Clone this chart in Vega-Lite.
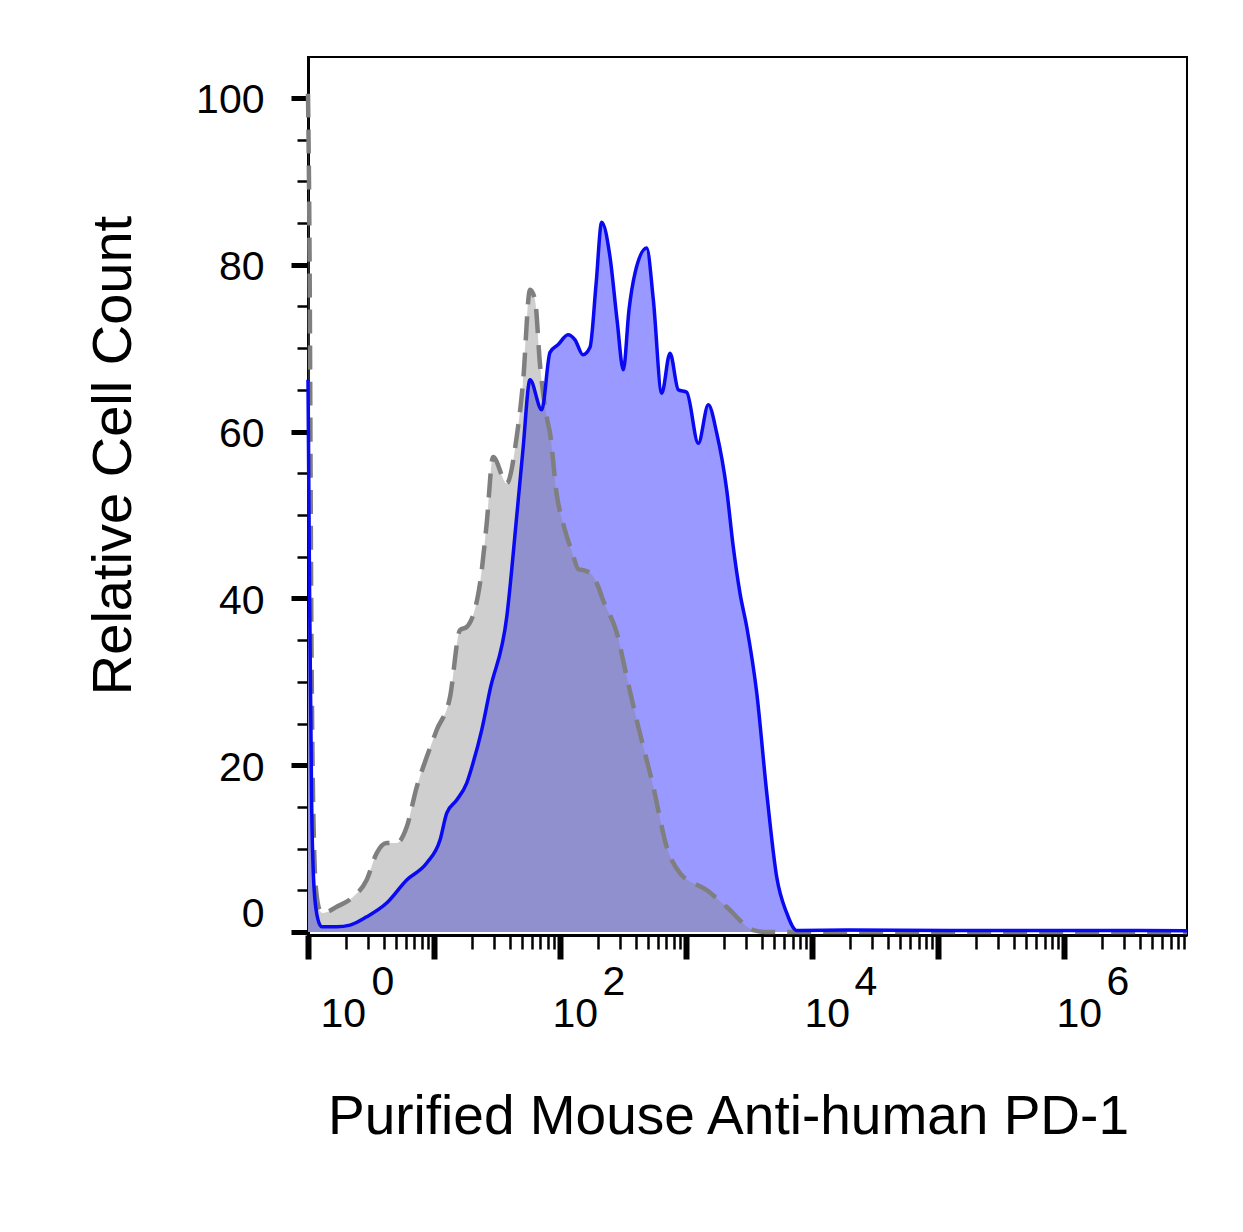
{
  "$schema": "https://vega.github.io/schema/vega-lite/v6.json",
  "background": "white",
  "autosize": {"type": "none"},
  "padding": {"left": 308, "top": 57, "right": 56, "bottom": 297},
  "width": 879,
  "height": 878,
  "datasets": {
    "blue": [
      {"x": 1, "y": 66.2}, {"x": 1.03, "y": 40}, {"x": 1.07, "y": 15}, {"x": 1.12, "y": 5},
      {"x": 1.2, "y": 1.5}, {"x": 1.285, "y": 0.64}, {"x": 1.69, "y": 0.64}, {"x": 2.154, "y": 0.84},
      {"x": 2.92, "y": 1.83}, {"x": 4.21, "y": 3.48}, {"x": 6.07, "y": 6.24}, {"x": 8.75, "y": 8.27},
      {"x": 11.16, "y": 11.03}, {"x": 12.62, "y": 14.27}, {"x": 15.14, "y": 15.83}, {"x": 18.18, "y": 17.87},
      {"x": 20.4, "y": 20.26}, {"x": 23.9, "y": 24.22}, {"x": 27.8, "y": 29.0}, {"x": 37.8, "y": 37.8},
      {"x": 45.3, "y": 49.8}, {"x": 50.8, "y": 57.8}, {"x": 57.8, "y": 66.2}, {"x": 71.6, "y": 62.6},
      {"x": 83.3, "y": 69.5}, {"x": 96.4, "y": 70.4}, {"x": 115.7, "y": 71.6}, {"x": 131.5, "y": 71.0},
      {"x": 152.2, "y": 69.2}, {"x": 173, "y": 70.1}, {"x": 193.1, "y": 77.6}, {"x": 214.3, "y": 85.1},
      {"x": 249.5, "y": 80.9}, {"x": 283.5, "y": 73.4}, {"x": 318, "y": 67.4}, {"x": 352.8, "y": 74.6},
      {"x": 393.7, "y": 79.0}, {"x": 487.5, "y": 82.0}, {"x": 550.3, "y": 75.8}, {"x": 641.4, "y": 64.6},
      {"x": 746.5, "y": 69.4}, {"x": 868.8, "y": 65.0}, {"x": 1013, "y": 64.7}, {"x": 1252, "y": 58.6},
      {"x": 1503, "y": 63.2}, {"x": 1753, "y": 59.8}, {"x": 2104, "y": 53.0}, {"x": 2361, "y": 46.4},
      {"x": 2683, "y": 40.6}, {"x": 3032, "y": 36.6}, {"x": 3640, "y": 28.7}, {"x": 4371, "y": 16.7},
      {"x": 5246, "y": 6.6}, {"x": 6295, "y": 2.3}, {"x": 7561, "y": 0.2}, {"x": 20000, "y": 0.25},
      {"x": 124500, "y": 0.2}, {"x": 774000, "y": 0.2}, {"x": 9460000, "y": 0.15}
    ],
    "gray": [
      {"x": 1, "y": 100.5}, {"x": 1.03, "y": 80}, {"x": 1.06, "y": 40}, {"x": 1.1, "y": 15},
      {"x": 1.16, "y": 5}, {"x": 1.25, "y": 2.5}, {"x": 1.315, "y": 2.28}, {"x": 1.69, "y": 3.03},
      {"x": 2.275, "y": 4.2}, {"x": 2.92, "y": 6.24}, {"x": 3.51, "y": 9.47}, {"x": 4.21, "y": 10.67},
      {"x": 5.06, "y": 10.67}, {"x": 6.07, "y": 12.59}, {"x": 7.29, "y": 17.39}, {"x": 8.75, "y": 20.98},
      {"x": 10.5, "y": 24.22}, {"x": 13.4, "y": 28.18}, {"x": 16.08, "y": 36.2}, {"x": 18.18, "y": 36.57},
      {"x": 23.2, "y": 41.85}, {"x": 26.2, "y": 49.0}, {"x": 29.4, "y": 56.95}, {"x": 37.8, "y": 53.8},
      {"x": 45.3, "y": 59.35}, {"x": 50.8, "y": 65.8}, {"x": 57.8, "y": 77.0}, {"x": 63.3, "y": 75.8},
      {"x": 69.4, "y": 68.0}, {"x": 78.4, "y": 61.75}, {"x": 83.3, "y": 59.8}, {"x": 94.1, "y": 52.5},
      {"x": 108, "y": 48.5}, {"x": 125, "y": 45.5}, {"x": 140, "y": 43.5}, {"x": 160, "y": 43.3},
      {"x": 180, "y": 42.8}, {"x": 200, "y": 41.5}, {"x": 219.4, "y": 39.8}, {"x": 281.8, "y": 35.9},
      {"x": 338.3, "y": 30.6}, {"x": 406.2, "y": 25.4}, {"x": 550.3, "y": 17.4}, {"x": 703, "y": 10.2},
      {"x": 896, "y": 7.07}, {"x": 1459, "y": 5.04}, {"x": 2104, "y": 3.0}, {"x": 3420, "y": 0.24},
      {"x": 4371, "y": 0}, {"x": 9460000, "y": 0}
    ]
  },
  "config": {
    "view": {"stroke": "black", "strokeWidth": 2},
    "font": "Liberation Sans",
    "axis": {"grid": false, "labelColor": "black", "titleColor": "black", "titleFontWeight": "normal"}
  },
  "resolve": {"scale": {"x": "shared"}, "axis": {"x": "independent"}},
  "encoding": {
    "y": {
      "field": "y",
      "type": "quantitative",
      "title": "Relative Cell Count",
      "scale": {"domain": [-0.35, 104.9], "nice": false, "zero": false},
      "axis": {
        "values": [0,5,10,15,20,25,30,35,40,45,50,55,60,65,70,75,80,85,90,95,100],
        "domainColor": "black",
        "domainWidth": 3,
        "tickColor": "black",
        "tickSize": {"condition": {"test": "datum.value % 20 == 0", "value": 17}, "value": 11},
        "tickWidth": {"condition": {"test": "datum.value % 20 == 0", "value": 5}, "value": 2.5},
        "labelExpr": "datum.value % 20 == 0 ? datum.label : ''",
        "labelFontSize": 41,
        "labelPadding": 27,
        "labelOffset": 3,
        "labelFlush": 5,
        "labelOverlap": false,
        "titleFontSize": 56,
        "titleX": -178,
        "titleY": 398,
        "titleAngle": -90,
        "titleBaseline": "alphabetic",
        "titleAlign": "center"
      }
    }
  },
  "layer": [
    {
      "data": {"name": "blue"},
      "mark": {"type": "area", "color": "#9999FF", "opacity": 1, "interpolate": "monotone"},
      "encoding": {
        "x": {
          "field": "x",
          "type": "quantitative",
          "title": "Purified Mouse Anti-human PD-1",
          "scale": {"type": "log", "domain": [1, 9460000], "nice": false},
          "axis": {
            "orient": "bottom",
            "values": [1,2,3,4,5,6,7,8,9,10,20,30,40,50,60,70,80,90,100,200,300,400,500,600,700,800,900,1000,2000,3000,4000,5000,6000,7000,8000,9000,10000,20000,30000,40000,50000,60000,70000,80000,90000,100000,200000,300000,400000,500000,600000,700000,800000,900000,1000000,2000000,3000000,4000000,5000000,6000000,7000000,8000000,9000000],
            "domainColor": "black",
            "domainWidth": 3,
            "tickColor": "black",
            "tickSize": {"condition": {"test": "abs(log(datum.value)/LN10 - round(log(datum.value)/LN10)) < 0.001", "value": 24}, "value": 14},
            "tickWidth": {"condition": {"test": "abs(log(datum.value)/LN10 - round(log(datum.value)/LN10)) < 0.001", "value": 6}, "value": 2.5},
            "labels": false,
            "titleFontSize": 55,
            "titleX": 420,
            "titleY": 198,
            "titleBaseline": "alphabetic",
            "titleAlign": "center"
          }
        }
      }
    },
    {
      "data": {"name": "gray"},
      "mark": {"type": "area", "color": "#808080", "opacity": 0.38, "interpolate": "monotone"},
      "encoding": {
        "x": {
          "field": "x",
          "type": "quantitative",
          "title": null,
          "scale": {"type": "log", "domain": [1, 9460000], "nice": false},
          "axis": {
            "orient": "bottom",
            "values": [1, 100, 10000, 1000000],
            "domain": false,
            "ticks": false,
            "labelExpr": "'10'",
            "labelFontSize": 41,
            "labelAlign": "left",
            "labelBaseline": "alphabetic",
            "labelPadding": 91,
            "labelOffset": {"condition": {"test": "datum.value == 1", "value": 12}, "value": -8},
            "labelOverlap": false,
            "labelFlush": false,
            "labelBound": false
          }
        }
      }
    },
    {
      "data": {"name": "gray"},
      "mark": {"type": "line", "color": "#7F7F7F", "strokeWidth": 4.5, "strokeDash": [24, 12], "interpolate": "monotone"},
      "encoding": {
        "x": {
          "field": "x",
          "type": "quantitative",
          "title": null,
          "scale": {"type": "log", "domain": [1, 9460000], "nice": false},
          "axis": {
            "orient": "bottom",
            "values": [1, 100, 10000, 1000000],
            "domain": false,
            "ticks": false,
            "labelExpr": "format(log(datum.value)/LN10, 'd')",
            "labelFontSize": 41,
            "labelAlign": "left",
            "labelBaseline": "alphabetic",
            "labelPadding": 59,
            "labelOffset": {"condition": {"test": "datum.value == 1", "value": 63}, "value": 42},
            "labelOverlap": false,
            "labelFlush": false,
            "labelBound": false
          }
        }
      }
    },
    {
      "data": {"name": "blue"},
      "mark": {"type": "line", "color": "#0A0AF0", "strokeWidth": 3.5, "interpolate": "monotone"},
      "encoding": {
        "x": {
          "field": "x",
          "type": "quantitative",
          "scale": {"type": "log", "domain": [1, 9460000], "nice": false},
          "axis": null
        }
      }
    }
  ]
}
